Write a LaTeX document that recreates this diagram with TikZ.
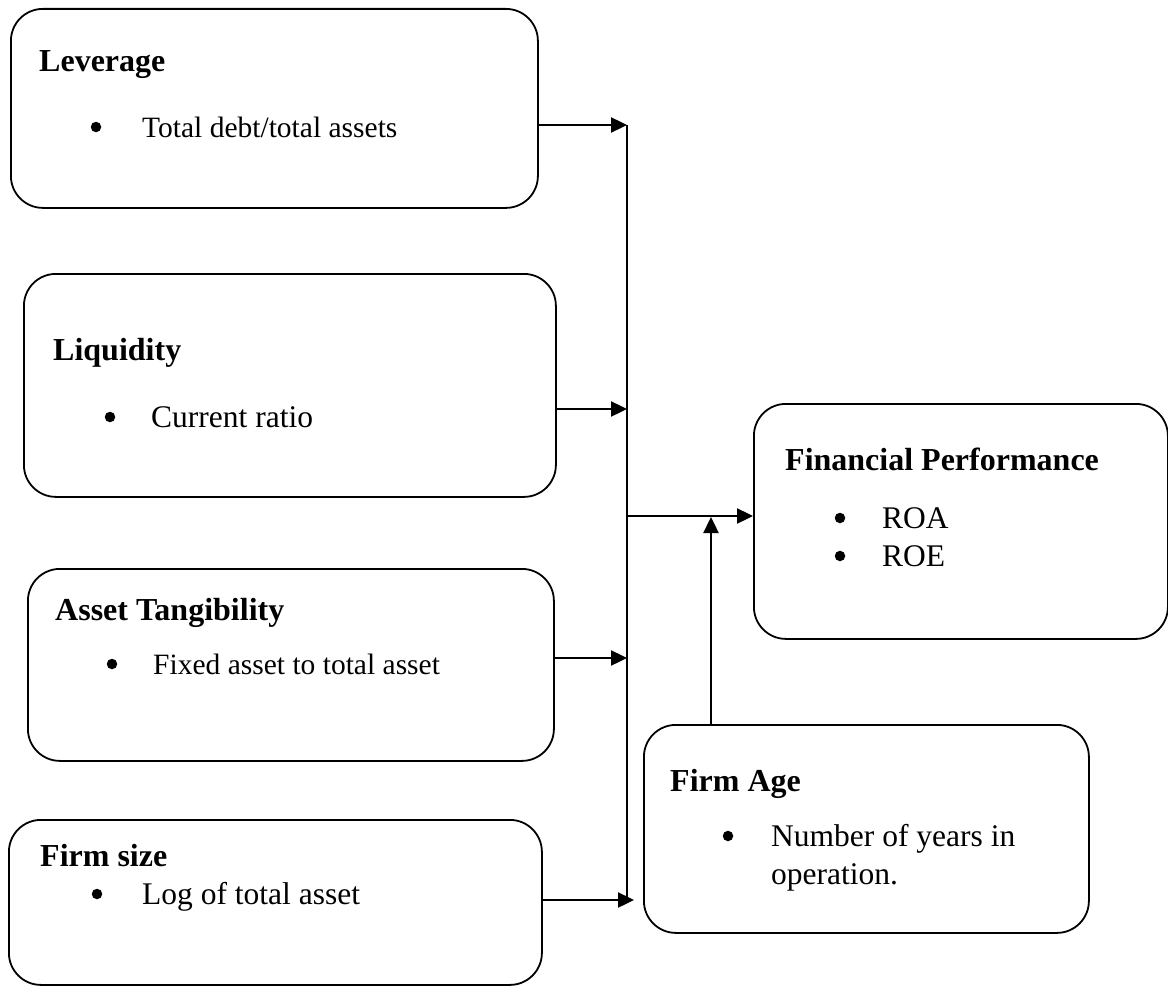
\documentclass[tikz,border=0pt]{standalone}
\usepackage{fontspec}
\setmainfont{Liberation Serif}
\usetikzlibrary{arrows.meta}
\begin{document}
\begin{tikzpicture}[x=1pt,y=-1pt,
  box/.style={draw=black, line width=1.8pt, rounded corners=32pt, anchor=north west, inner sep=0pt},
  txt/.style={anchor=base west, inner sep=0pt, font=\fontsize{31.5}{38}\selectfont},
  stxt/.style={anchor=base west, inner sep=0pt, font=\fontsize{29.5}{36}\selectfont},
  hd/.style={anchor=base west, inner sep=0pt, font=\fontsize{32}{38}\selectfont\bfseries},
  bul/.style={circle, fill=black, inner sep=0pt, minimum size=10.5pt},
  ln/.style={draw=black, line width=2.4pt},
  arr/.style={ln, -{Triangle[length=16pt,width=15pt]}}
]
\fill[white] (0,0) rectangle (1168,990);
\useasboundingbox (0,0) rectangle (1168,990);

% boxes
\node[box, minimum width=527pt, minimum height=199pt] (lev) at (10,8) {};
\node[box, minimum width=532pt, minimum height=223pt] (liq) at (23,273) {};
\node[box, minimum width=526pt, minimum height=192pt] (tan) at (27,568) {};
\node[box, minimum width=533pt, minimum height=165pt] (siz) at (8,819) {};
\node[box, minimum width=414pt, minimum height=235pt] (fp) at (753,403) {};
\node[box, minimum width=445pt, minimum height=208pt] (age) at (643,724) {};

% texts
\node[hd] (levh) at (39,72) {Leverage};
\node[bul] (levb) at (96,127) {};
\node[stxt] (levt) at (142,137) {Total debt/total assets};

\node[hd] (liqh) at (53,360) {Liquidity};
\node[bul] (liqb) at (110,417) {};
\node[txt] (liqt) at (151,427) {Current ratio};

\node[hd] (tanh) at (55,620) {Asset Tangibility};
\node[bul] (tanb) at (112,664) {};
\node[stxt] (tant) at (153,674) {Fixed asset to total asset};

\node[hd] (sizh) at (40,866) {Firm size};
\node[bul] (sizb) at (97,894) {};
\node[txt] (sizt) at (142,904) {Log of total asset};

\node[hd] (fph) at (785,470) {Financial Performance};
\node[bul] (fpb1) at (840,518) {};
\node[txt] (fpt1) at (882,528) {ROA};
\node[bul] (fpb2) at (840,556) {};
\node[txt] (fpt2) at (882,566) {ROE};

\node[hd] (ageh) at (670,791) {Firm Age};
\node[bul] (ageb) at (728,836) {};
\node[txt] (aget1) at (771,846) {Number of years in};
\node[txt] (aget2) at (771,884) {operation.};

% connectors
\coordinate (b1) at (627,125);
\coordinate (b2) at (627,409);
\coordinate (b3) at (627,658);
\coordinate (b4) at (634,900);
\coordinate (bm) at (627,516);
\coordinate (bbot) at (627,897);
\coordinate (ageup) at (711,517);

\draw[ln] (b1) -- (bbot);
\draw[arr] (lev.east |- b1) -- (b1);
\draw[arr] (liq.east |- b2) -- (b2);
\draw[arr] (tan.east |- b3) -- (b3);
\draw[arr] (siz.east |- b4) -- (b4);
\draw[arr] (bm) -- (fp.west |- bm);
\draw[arr] (age.north -| ageup) -- (ageup);
\end{tikzpicture}
\end{document}
